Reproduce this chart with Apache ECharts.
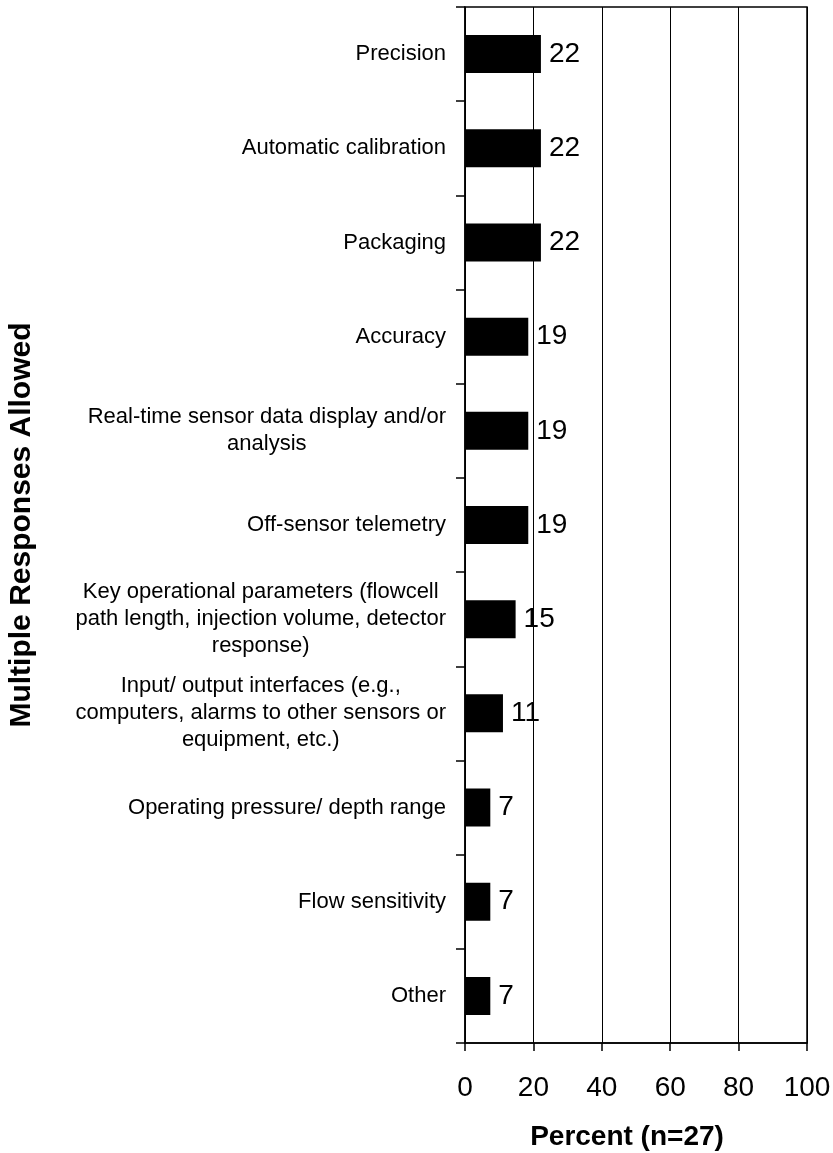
<!DOCTYPE html>
<html>
<head>
<meta charset="utf-8">
<script src="https://cdn.jsdelivr.net/npm/echarts@6/dist/echarts.min.js"></script>
<style>
  html, body { margin: 0; padding: 0; background: #fff; }
  #chart { width: 833px; height: 1153px; }
</style>
</head>
<body>
<div id="chart"></div>
<script>
var categories = [
    'Precision',
    'Automatic calibration',
    'Packaging',
    'Accuracy',
    'Real-time sensor data display and/or\nanalysis',
    'Off-sensor telemetry',
    'Key operational parameters (flowcell\npath length, injection volume, detector\nresponse)',
    'Input/ output interfaces (e.g.,\ncomputers, alarms to other sensors or\nequipment, etc.)',
    'Operating pressure/ depth range',
    'Flow sensitivity',
    'Other'
];
var percents = [22.2, 22.2, 22.2, 18.5, 18.5, 18.5, 14.8, 11.1, 7.4, 7.4, 7.4];
var xTicks = [0, 20, 40, 60, 80, 100];

var font = '"Liberation Sans", Arial, sans-serif';

var myChart = echarts.init(document.getElementById('chart'));

option = {
    animation: false,
    grid: {
        left: 465,
        right: 26,
        top: 7,
        bottom: 110,
        outerBoundsMode: 'none',
        containLabel: false,
        show: true,
        borderColor: '#000',
        borderWidth: 1.5
    },
    xAxis: {
        type: 'value',
        min: xTicks[0],
        max: xTicks[xTicks.length - 1],
        interval: 20,
        name: 'Percent (n=27)',
        nameLocation: 'middle',
        nameGap: 80,
        nameTextStyle: {
            fontFamily: font, fontSize: 28, fontWeight: 'bold', color: '#000',
            padding: [0, 18, 0, 0]
        },
        axisLine: { show: true, lineStyle: { color: '#000', width: 1.5 } },
        axisTick: { show: true, length: 8, lineStyle: { color: '#000', width: 1.5 } },
        axisLabel: { fontFamily: font, fontSize: 28, color: '#000', margin: 31 },
        splitLine: { show: true, lineStyle: { color: '#000', width: 1 } }
    },
    yAxis: {
        type: 'category',
        inverse: true,
        data: categories,
        name: 'Multiple Responses Allowed',
        nameLocation: 'middle',
        nameGap: 428,
        nameTextStyle: { fontFamily: font, fontSize: 30, fontWeight: 'bold', color: '#000' },
        axisLine: { show: true, lineStyle: { color: '#000', width: 1.5 } },
        axisTick: { show: true, length: 9, lineStyle: { color: '#000', width: 1.5 } },
        axisLabel: {
            fontFamily: font,
            fontSize: 22,
            lineHeight: 27,
            color: '#000',
            margin: 19,
            formatter: function (v) {
                return v.split('\n').map(function (s) { return '{c|' + s + '}'; }).join('\n');
            },
            rich: {
                c: { align: 'center', fontFamily: font, fontSize: 22, lineHeight: 27, color: '#000' }
            }
        },
        splitLine: { show: false }
    },
    series: [{
        type: 'bar',
        data: percents,
        barWidth: 38,
        itemStyle: { color: '#000' },
        label: {
            show: true,
            position: 'right',
            distance: 8,
            fontFamily: font,
            fontSize: 28,
            color: '#000',
            padding: [4, 0, 0, 0],
            formatter: function (p) { return Math.round(p.value); }
        }
    }]
};

myChart.setOption(option);
window.addEventListener('resize', function () {
    myChart.resize();
});
</script>
</body>
</html>
